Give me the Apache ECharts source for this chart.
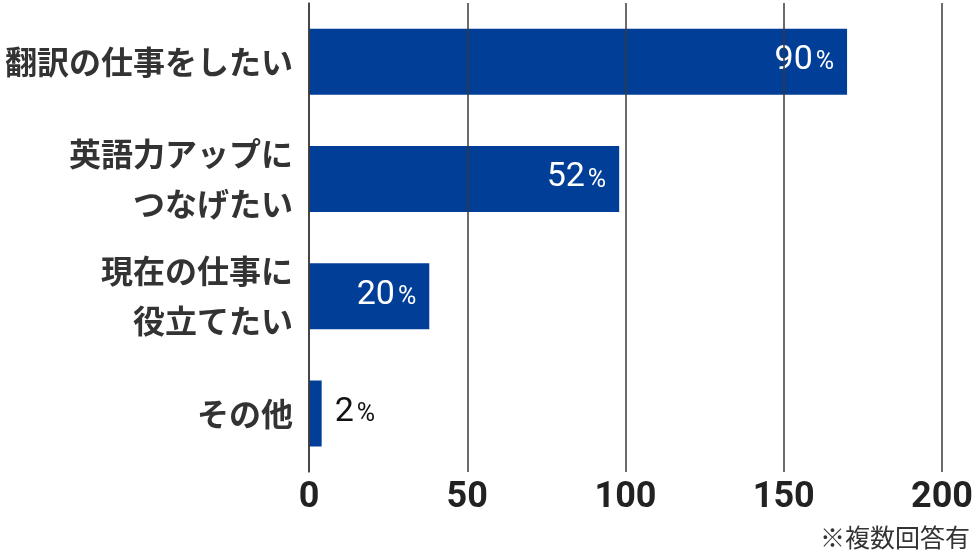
<!DOCTYPE html>
<html>
<head>
<meta charset="utf-8">
<script src="https://cdn.jsdelivr.net/npm/echarts@6/dist/echarts.min.js"></script>
<style>
html,body{margin:0;padding:0;background:#fff;}
#chart{width:976px;height:554px;}
</style>
</head>
<body>
<div id="chart"></div>
<script>
const categories = ['翻訳の仕事をしたい', '英語力アップに\nつなげたい', '現在の仕事に\n役立てたい', 'その他'];
const counts = [170, 98, 38, 4];
const percents = [90, 52, 20, 2];
const xTickValues = [0, 50, 100, 150, 200];
const footnote = '※複数回答有';

const chart = echarts.init(document.getElementById('chart'), null, {renderer: 'canvas'});

const barData = counts.map(function (v, i) {
  const inside = v >= 20;
  return {
    value: v,
    label: {
      show: true,
      position: inside ? 'insideRight' : 'right',
      distance: 13,
      offset: [0, -1],
      formatter: '{n|' + percents[i] + '}{p|%}',
      rich: {
        n: {fontSize: 34, fontFamily: 'Roboto', fontWeight: 'normal', color: inside ? '#ffffff' : '#111111', verticalAlign: 'bottom'},
        p: {fontSize: 25, fontFamily: 'Roboto', color: inside ? '#ffffff' : '#111111', verticalAlign: 'bottom', padding: [0, 0, 2, 3]}
      }
    }
  };
});

chart.setOption({
  animation: false,
  backgroundColor: '#ffffff',
  grid: {left: 309, right: 32, top: 3, bottom: 82, containLabel: false},
  xAxis: {
    type: 'value',
    min: xTickValues[0],
    max: xTickValues[xTickValues.length - 1],
    interval: 50,
    z: 10,
    axisLine: {show: false},
    axisTick: {show: false},
    splitLine: {show: true, lineStyle: {color: '#3a3a3a', width: 1.5}},
    axisLabel: {
      margin: 8,
      fontSize: 36,
      fontWeight: 'bold',
      fontFamily: '"Liberation Sans Narrow", "Roboto", sans-serif',
      color: '#222222'
    }
  },
  yAxis: {
    type: 'category',
    data: categories,
    inverse: true,
    z: 10,
    axisLine: {show: true, lineStyle: {color: '#3a3a3a', width: 1.5}},
    axisTick: {show: false},
    splitLine: {show: false},
    axisLabel: {
      margin: 16,
      fontSize: 32,
      fontWeight: 'bold',
      lineHeight: 50,
      fontFamily: '"Noto Sans CJK JP", sans-serif',
      color: '#333333'
    }
  },
  series: [{
    type: 'bar',
    z: 2,
    barWidth: 66,
    itemStyle: {color: '#003e97'},
    data: barData
  }],
  graphic: [{
    type: 'text',
    right: 6,
    top: 525,
    style: {
      text: footnote,
      fontSize: 25,
      fontFamily: '"Noto Sans CJK JP", sans-serif',
      fill: '#333333'
    }
  }]
});
</script>
</body>
</html>
